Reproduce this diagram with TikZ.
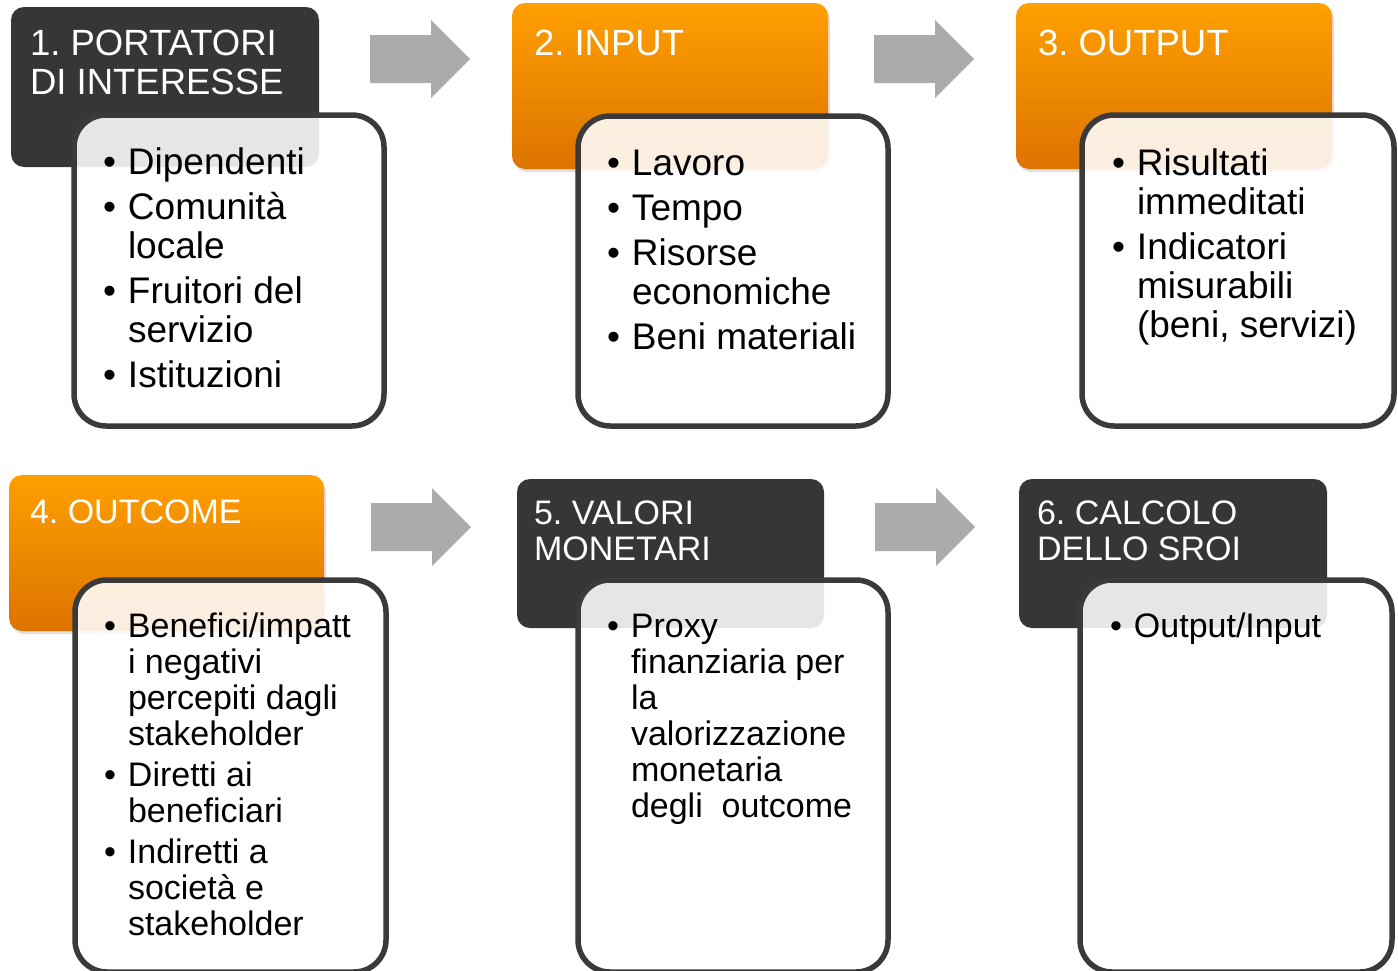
\documentclass[tikz,border=0pt]{standalone}
\usepackage{fontspec}
\setmainfont{Liberation Sans}
\usetikzlibrary{shadows,calc}
\definecolor{darkbox}{HTML}{363636}
\definecolor{orangetop}{HTML}{FF9F00}
\definecolor{orangebot}{HTML}{DC7300}
\definecolor{arrowgray}{HTML}{ABABAB}
\definecolor{bordergray}{HTML}{3A3A3A}
\newcommand{\itm}{\llap{\textbullet\hspace{12pt}}}
\newcommand{\tp}{\rule{0pt}{40pt}}
\frenchspacing
\begin{document}
\begin{tikzpicture}[x=1pt,y=-1pt,
  headbase/.style={rectangle, rounded corners=13pt, anchor=north west, inner sep=0pt, outer sep=0pt},
  darkhead/.style={headbase, fill=darkbox},
  orangehead/.style={headbase, top color=orangetop, bottom color=orangebot,
     drop shadow={shadow xshift=2pt, shadow yshift=-3pt, opacity=0.25}},
  bodybox/.style={rectangle, rounded corners=32pt, anchor=north west, inner sep=0pt, outer sep=0pt,
     draw=bordergray, line width=5.5pt, fill=white, fill opacity=0.88, draw opacity=1},
  headtxt/.style={anchor=north west, inner sep=0pt, outer sep=0pt, align=left, text=white},
  toptxt/.style={anchor=north west, inner sep=0pt, outer sep=0pt, align=left, text=black,
     font=\fontsize{37}{39}\selectfont},
  bottxt/.style={anchor=north west, inner sep=0pt, outer sep=0pt, align=left, text=black,
     font=\fontsize{34}{36}\selectfont},
  blockarrow/.style={fill=arrowgray, draw=none}
]
\useasboundingbox (0,0) rectangle (1398,970);
\clip (0,0) rectangle (1398,970);

% ---------- top row ----------
\node[darkhead, minimum width=308pt, minimum height=160pt] (h1) at (11,7) {};
\node[orangehead, minimum width=316pt, minimum height=166pt] (h2) at (512,3) {};
\node[orangehead, minimum width=316pt, minimum height=166pt] (h3) at (1016,3) {};

% first baseline = y + 40
\node[headtxt, font=\fontsize{36.5}{39}\selectfont] (t1) at (30,15) {\tp 1. PORTATORI\\DI INTERESSE};
\node[headtxt, font=\fontsize{36.5}{39}\selectfont] (t2) at (534,15) {\tp 2. INPUT};
\node[headtxt, font=\fontsize{36.5}{39}\selectfont] (t3) at (1038,15) {\tp 3. OUTPUT};

\node[bodybox, minimum width=310pt, minimum height=311pt] (b1) at (74,115) {};
\node[bodybox, minimum width=310pt, minimum height=310pt] (b2) at (578,116) {};
\node[bodybox, minimum width=312pt, minimum height=311pt] (b3) at (1082,115) {};

\node[toptxt] (l1) at (128,134) {\tp\itm Dipendenti\\[6pt]\itm Comunità\\locale\\[6pt]\itm Fruitori del\\servizio\\[6pt]\itm Istituzioni};
\node[toptxt] (l2) at (632,135) {\tp\itm Lavoro\\[6pt]\itm Tempo\\[6pt]\itm Risorse\\economiche\\[6pt]\itm Beni materiali};
\node[toptxt] (l3) at (1137,135) {\tp\itm Risultati\\immeditati\\[6pt]\itm Indicatori\\misurabili\\(beni, servizi)};

% ---------- bottom row ----------
\node[orangehead, minimum width=315pt, minimum height=156pt] (h4) at (9,475) {};
\node[darkhead, minimum width=307pt, minimum height=149pt] (h5) at (517,479) {};
\node[darkhead, minimum width=308pt, minimum height=149pt] (h6) at (1019,479) {};

\node[headtxt, font=\fontsize{34}{36}\selectfont] (t4) at (30,483) {\tp 4. OUTCOME};
\node[headtxt, font=\fontsize{34}{36}\selectfont] (t5) at (534,484) {\tp 5. VALORI\\MONETARI};
\node[headtxt, font=\fontsize{34}{36}\selectfont] (t6) at (1037,484) {\tp 6. CALCOLO\\DELLO SROI};

\node[bodybox, minimum width=311pt, minimum height=392pt] (b4) at (75,580) {};
\node[bodybox, minimum width=310pt, minimum height=392pt] (b5) at (578,580) {};
\node[bodybox, minimum width=312pt, minimum height=392pt] (b6) at (1080,580) {};

\node[bottxt] (l4) at (128,597) {\tp\itm Benefici/impatt\\i negativi\\percepiti dagli\\stakeholder\\[5pt]\itm Diretti ai\\beneficiari\\[5pt]\itm Indiretti a\\società e\\stakeholder};
\node[bottxt] (l5) at (631,597) {\tp\itm Proxy\\finanziaria per\\la\\valorizzazione\\monetaria\\degli\ \ outcome};
\node[bottxt] (l6) at (1134,597) {\tp\itm Output/Input};

% ---------- block arrows ----------
\coordinate (a1) at (370,59);
\coordinate (a2) at (874,59);
\coordinate (a3) at (371,527);
\coordinate (a4) at (875,527);
\foreach \c in {a1,a2,a3,a4}{
  \fill[blockarrow] ($(\c)+(0,-24)$) -- ++(61,0) -- ++(0,-15) -- ++(39,39)
     -- ++(-39,39) -- ++(0,-15) -- ++(-61,0) -- cycle;
}
\end{tikzpicture}
\end{document}
